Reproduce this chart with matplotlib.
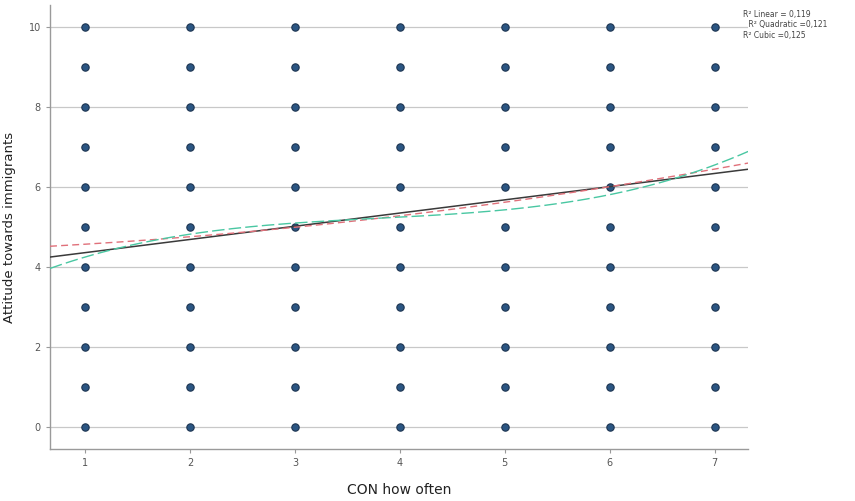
import matplotlib
matplotlib.use("Agg")
import matplotlib.pyplot as plt
import numpy as np

# scatter grid: every combination of x 1..7 and y 0..10 occurs
x_levels = [1, 2, 3, 4, 5, 6, 7]
y_levels = [0, 1, 2, 3, 4, 5, 6, 7, 8, 9, 10]

# fitted curves (polynomial coefficients, highest power first)
linear_coef = [0.33, 4.03]
quad_coef = [0.0253, 0.1106, 4.435]
cubic_coef = [0.0273, -0.3107, 1.3129, 3.2204]

fit_labels = ["R² Linear = 0,119", " R² Quadratic =0,121", "R² Cubic =0,125"]

fig = plt.figure(figsize=(8.55, 5.01), dpi=100)
ax = fig.add_axes([0.0585, 0.1038, 0.8165, 0.886])

gx, gy = np.meshgrid(x_levels, y_levels)
ax.scatter(gx.ravel(), gy.ravel(), s=28, c="#2b5683", edgecolors="#1c3350",
           linewidths=0.8, zorder=3)

xs = np.linspace(0.666, 7.32, 200)
ax.plot(xs, np.polyval(linear_coef, xs), color="#3a3a3a", lw=1.1, zorder=4)
ax.plot(xs, np.polyval(quad_coef, xs), color="#e0707a", lw=1.0, ls=(0, (5, 3)), zorder=4)
ax.plot(xs, np.polyval(cubic_coef, xs), color="#49c7a2", lw=1.0, ls=(0, (9, 3)), zorder=4)

ax.set_xlim(0.666, 7.32)
ax.set_ylim(-0.55, 10.55)
ax.set_xticks(x_levels)
ax.set_yticks([0, 2, 4, 6, 8, 10])
ax.yaxis.grid(True, color="#c8c8c8", lw=0.9)
ax.set_axisbelow(True)

for s in ["top", "right"]:
    ax.spines[s].set_visible(False)
for s in ["left", "bottom"]:
    ax.spines[s].set_color("#9a9a9a")
    ax.spines[s].set_linewidth(1.0)
ax.tick_params(colors="#9a9a9a", labelcolor="#555555", labelsize=7, length=3)

ax.set_xlabel("CON how often", fontsize=10, color="#222222", labelpad=11)
ax.set_ylabel("Attitude towards immigrants", fontsize=9.5, color="#222222", labelpad=9)

ypos = [0.972, 0.951, 0.930]
xpos = [0.8695, 0.873, 0.8695]
for lab, xp, yp in zip(fit_labels, xpos, ypos):
    fig.text(xp, yp, lab, fontsize=5.5, color="#444444", va="center")

fig.savefig("out.png", dpi=100)
